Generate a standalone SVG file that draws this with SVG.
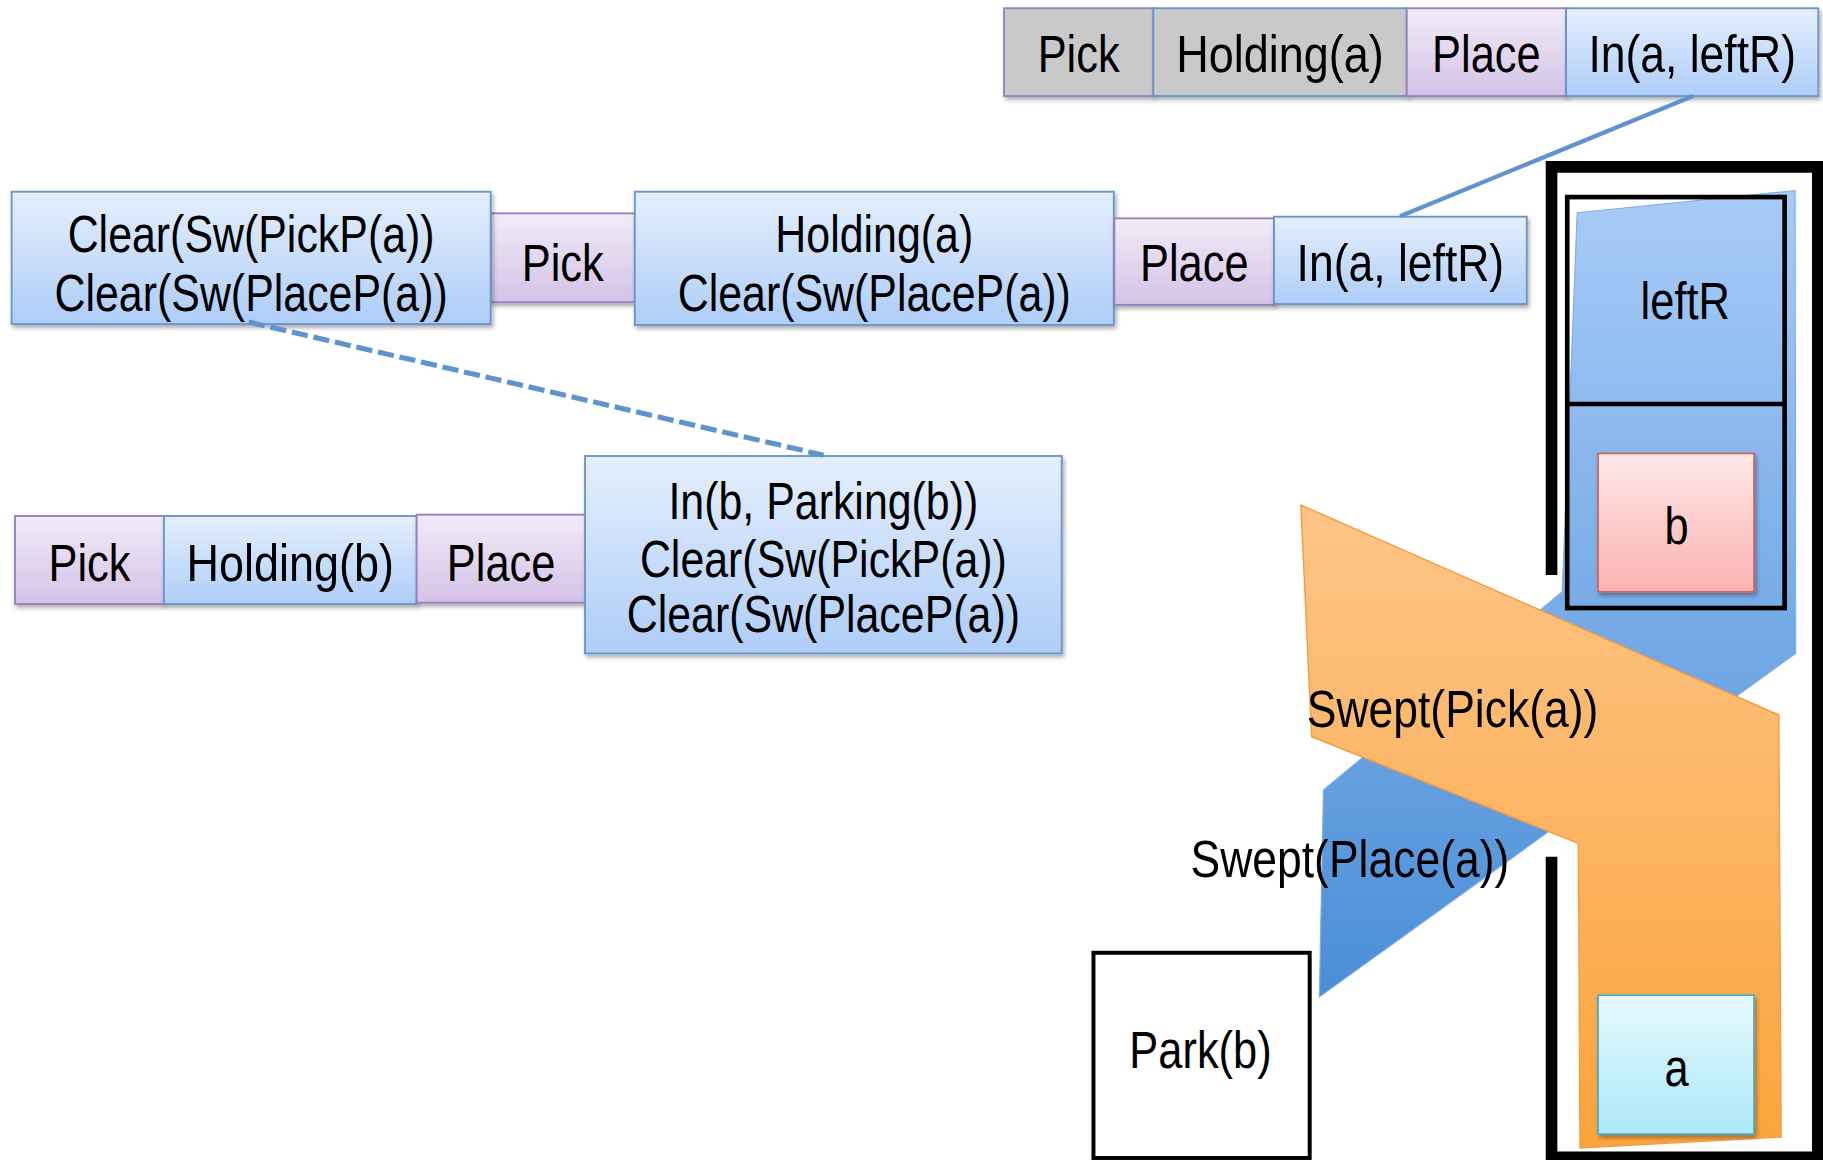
<svg xmlns="http://www.w3.org/2000/svg" width="1823" height="1160" viewBox="0 0 1823 1160">
  <defs>
    <linearGradient id="gBlue" x1="0" y1="0" x2="0" y2="1">
      <stop offset="0" stop-color="#e5effd"/>
      <stop offset="1" stop-color="#aecdf8"/>
    </linearGradient>
    <linearGradient id="gPurple" x1="0" y1="0" x2="0" y2="1">
      <stop offset="0" stop-color="#f1ecf8"/>
      <stop offset="1" stop-color="#d4c2e6"/>
    </linearGradient>
    <linearGradient id="gPink" x1="0" y1="0" x2="0" y2="1">
      <stop offset="0" stop-color="#fee8e8"/>
      <stop offset="1" stop-color="#fbb2b0"/>
    </linearGradient>
    <linearGradient id="gCyan" x1="0" y1="0" x2="0" y2="1">
      <stop offset="0" stop-color="#e6f8fd"/>
      <stop offset="1" stop-color="#ade8f9"/>
    </linearGradient>
    <linearGradient id="gSweepPlace" gradientUnits="userSpaceOnUse" x1="0" y1="164" x2="0" y2="858">
      <stop offset="0" stop-color="#a8cbf8"/>
      <stop offset="1" stop-color="#4a8ed6"/>
    </linearGradient>
    <linearGradient id="gSweepPick" gradientUnits="userSpaceOnUse" x1="0" y1="434" x2="0" y2="988">
      <stop offset="0" stop-color="#fdc588"/>
      <stop offset="1" stop-color="#fba43c"/>
    </linearGradient>
    <filter id="shadow" x="-5%" y="-10%" width="115%" height="135%">
      <feDropShadow dx="1.5" dy="2.5" stdDeviation="1.8" flood-color="#000" flood-opacity="0.33"/>
    </filter>
  </defs>
  <style>
    text { font-family: "Liberation Sans Narrow", "Liberation Sans", Arial, sans-serif; font-size: 45px; fill: #000; text-anchor: middle; }
    text.left { text-anchor: start; }
    .blue { fill: url(#gBlue); stroke: #6896cf; stroke-width: 1.6; filter: url(#shadow); }
    .purple { fill: url(#gPurple); stroke: #9a80bf; stroke-width: 1.6; filter: url(#shadow); }
    .grayP { fill: #c9c9c9; stroke: #9a80bf; stroke-width: 1.6; filter: url(#shadow); }
    .grayB { fill: #c9c9c9; stroke: #6896cf; stroke-width: 1.6; filter: url(#shadow); }
    .link { fill: none; stroke: #5f93cd; stroke-width: 3.6; }
    .dashed { stroke-width: 4.4; stroke-dasharray: 14 5; }
    .wall { fill: none; stroke: #000; stroke-width: 10; stroke-linejoin: miter; }
    .frame { fill: none; stroke: #000; stroke-width: 4; }
  </style>

  <!-- drawing laid out on a 1568-wide grid, scaled to the canvas;
       labels are condensed horizontally about their anchor x -->
  <g transform="scale(1.16263)">

    <!-- workspace: swept volumes, regions and objects -->
    <g id="swept-place">
      <polygon points="1356.6,183 1544,164 1544.5,562 1134.8,857.5 1138.3,679.5 1343.7,509" fill="url(#gSweepPlace)" stroke="#7faee6" stroke-width="1"/>
    </g>
    <g id="leftR">
      <rect class="frame" x="1348" y="169.5" width="187" height="353.5"/>
      <line class="frame" x1="1348" y1="347.5" x2="1535" y2="347.5"/>
      <text x="1449.5" y="274" transform="translate(1449.5,0) scale(0.83,1) translate(-1449.5,0)">leftR</text>
    </g>
    <g id="obj-b">
      <rect x="1374.5" y="390" width="134.2" height="119" fill="url(#gPink)" stroke="#d2625f" stroke-width="1.5" filter="url(#shadow)"/>
      <text x="1442" y="468" transform="translate(1442,0) scale(0.83,1) translate(-1442,0)">b</text>
    </g>
    <g id="swept-pick">
      <polygon points="1118.9,434.4 1530,615 1532,978 1359,987.5 1357.6,725.4 1128.2,633.7" fill="url(#gSweepPick)" stroke="#f59a3f" stroke-width="1.2"/>
    </g>
    <g id="obj-a">
      <rect x="1374.5" y="856" width="134.2" height="119.5" fill="url(#gCyan)" stroke="#4bacc6" stroke-width="1.5" filter="url(#shadow)"/>
      <text x="1442" y="934" transform="translate(1442,0) scale(0.83,1) translate(-1442,0)">a</text>
    </g>
    <g id="walls">
      <path class="wall" d="M1334.5,494.5 V143.5 H1563.5 V1000"/>
      <path class="wall" d="M1334.5,737 V995.5 H1570"/>
    </g>
    <g id="park-b">
      <rect x="940.5" y="819.5" width="186" height="176.5" fill="#fff" stroke="#000" stroke-width="3.4"/>
      <text x="1032.6" y="919" transform="translate(1032.6,0) scale(0.83,1) translate(-1032.6,0)">Park(b)</text>
    </g>
    <g id="labels">
      <text class="left" x="1124" y="625.5" transform="translate(1124,0) scale(0.85,1) translate(-1124,0)">Swept(Pick(a))</text>
      <text class="left" x="1024" y="754" transform="translate(1024,0) scale(0.85,1) translate(-1024,0)">Swept(Place(a))</text>
    </g>

    <!-- plan: top row -->
    <g id="top-pick">
      <rect class="grayP" x="863.6" y="7.1" width="128.4" height="75.5"/>
      <text x="927.8" y="62" transform="translate(927.8,0) scale(0.83,1) translate(-927.8,0)">Pick</text>
    </g>
    <g id="top-holding-a">
      <rect class="grayB" x="992" y="7.1" width="218" height="75.5"/>
      <text x="1101" y="62" transform="translate(1101,0) scale(0.86,1) translate(-1101,0)">Holding(a)</text>
    </g>
    <g id="top-place">
      <rect class="purple" x="1210" y="7.1" width="137" height="75.5"/>
      <text x="1278.5" y="62" transform="translate(1278.5,0) scale(0.83,1) translate(-1278.5,0)">Place</text>
    </g>
    <g id="top-in-a-leftR">
      <rect class="blue" x="1347" y="7.1" width="217" height="75.5"/>
      <text x="1455.5" y="62" transform="translate(1455.5,0) scale(0.85,1) translate(-1455.5,0)">In(a, leftR)</text>
    </g>

    <!-- plan: middle row -->
    <g id="mid-pick">
      <rect class="purple" x="422" y="183.5" width="124" height="76.5"/>
      <text x="484" y="242" transform="translate(484,0) scale(0.83,1) translate(-484,0)">Pick</text>
    </g>
    <g id="mid-clear">
      <rect class="blue" x="10" y="164.9" width="412" height="113.8"/>
      <text transform="translate(216,0) scale(0.82,1) translate(-216,0)"><tspan x="216" y="217">Clear(Sw(PickP(a))</tspan><tspan x="216" y="267.5">Clear(Sw(PlaceP(a))</tspan></text>
    </g>
    <g id="mid-holding-a">
      <rect class="blue" x="546" y="164.9" width="412" height="114.6"/>
      <text transform="translate(752,0) scale(0.82,1) translate(-752,0)"><tspan x="752" y="217">Holding(a)</tspan><tspan x="752" y="267.5">Clear(Sw(PlaceP(a))</tspan></text>
    </g>
    <g id="mid-place">
      <rect class="purple" x="958.5" y="187.8" width="137.3" height="74.5"/>
      <text x="1027.2" y="242" transform="translate(1027.2,0) scale(0.83,1) translate(-1027.2,0)">Place</text>
    </g>
    <g id="mid-in-a-leftR">
      <rect class="blue" x="1095.8" y="186.4" width="217.4" height="75.1"/>
      <text x="1204.5" y="242" transform="translate(1204.5,0) scale(0.85,1) translate(-1204.5,0)">In(a, leftR)</text>
    </g>

    <!-- plan: bottom row -->
    <g id="low-pick">
      <rect class="purple" x="12.9" y="443.8" width="128.1" height="75.7"/>
      <text x="77" y="499.5" transform="translate(77,0) scale(0.83,1) translate(-77,0)">Pick</text>
    </g>
    <g id="low-holding-b">
      <rect class="blue" x="141" y="443.8" width="217.4" height="75.7"/>
      <text x="249.7" y="499.5" transform="translate(249.7,0) scale(0.86,1) translate(-249.7,0)">Holding(b)</text>
    </g>
    <g id="low-place">
      <rect class="purple" x="358.4" y="442.7" width="145" height="75.7"/>
      <text x="431" y="499.5" transform="translate(431,0) scale(0.83,1) translate(-431,0)">Place</text>
    </g>
    <g id="low-goal">
      <rect class="blue" x="503.2" y="392.2" width="410" height="169.8"/>
      <text transform="translate(708.2,0) scale(0.82,1) translate(-708.2,0)"><tspan x="708.2" y="446.5">In(b, Parking(b))</tspan><tspan x="708.2" y="496">Clear(Sw(PickP(a))</tspan><tspan x="708.2" y="544">Clear(Sw(PlaceP(a))</tspan></text>
    </g>

    <!-- connectors -->
    <g id="connectors">
      <line class="link dashed" x1="214" y1="277" x2="708.3" y2="391.5"/>
      <line class="link" x1="1456.2" y1="82.6" x2="1204.2" y2="186"/>
    </g>
  </g>
</svg>
